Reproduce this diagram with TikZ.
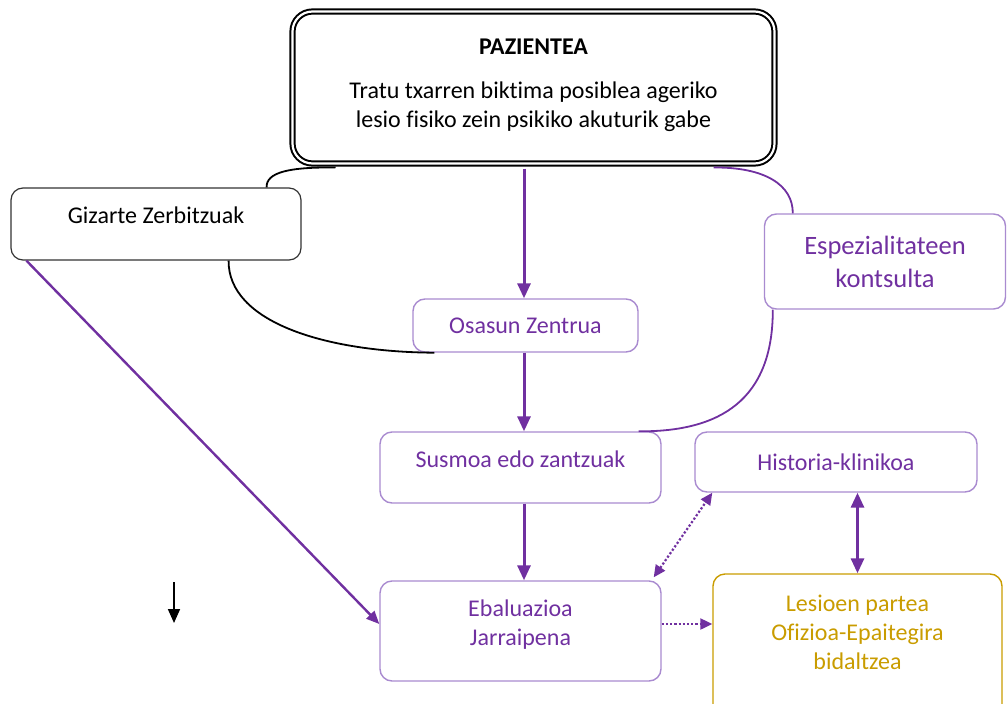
\documentclass[tikz,border=0pt]{standalone}
\usepackage{fontspec}
\setmainfont{Carlito}[Ligatures=CommonOff]
\usepackage{tikz}
\usetikzlibrary{arrows.meta,calc}
\definecolor{violet}{HTML}{7030A0}
\definecolor{lilac}{HTML}{A98BD0}
\definecolor{golden}{HTML}{C99C00}
\begin{document}
\begin{tikzpicture}[x=1pt,y=-1pt]
\tikzstyle{every node}=[font=\fontsize{24}{29}\selectfont, align=center, inner sep=0pt]
\tikzstyle{blackbox}=[draw=black!80, line width=1.2pt, rounded corners=12pt]
\tikzstyle{lilacbox}=[draw=lilac, line width=1.4pt, rounded corners=12pt, text=violet]
\tikzstyle{mainarrow}=[violet, line width=3pt, -{Triangle[width=13pt,length=15pt]}]
\tikzstyle{dotarrow}=[violet, line width=2.2pt, dotted, {Triangle[width=11pt,length=12pt]}-{Triangle[width=11pt,length=12pt]}]
\clip (0,0) rectangle (1007,704);
\useasboundingbox (0,0) rectangle (1007,704);
\draw (533.5,87.5) node (pat) [draw, double, line width=2pt, double distance=2.2pt, rounded corners=20pt, minimum width=482pt, minimum height=152pt, text depth=8pt] {\textbf{PAZIENTEA}\\[15pt]Tratu txarren biktima posiblea ageriko\\lesio fisiko zein psikiko akuturik gabe};
\draw (156,224) node (giz) [blackbox, minimum width=290pt, minimum height=72pt, text depth=18pt] {Gizarte Zerbitzuak};
\draw (885,261.5) node (esp) [lilacbox, minimum width=241pt, minimum height=95pt, font=\fontsize{26.5}{33}\selectfont] {Espezialitateen\\kontsulta};
\draw (525.5,325.5) node (osa) [lilacbox, minimum width=225pt, minimum height=53pt] {Osasun Zentrua};
\draw (520.5,467.5) node (sus) [lilacbox, minimum width=281pt, minimum height=71pt, text depth=17pt] {Susmoa edo zantzuak};
\draw (836,462) node (his) [lilacbox, minimum width=282pt, minimum height=60pt] {Historia-klinikoa};
\draw (520.5,631) node (eba) [lilacbox, minimum width=281pt, minimum height=100pt, text depth=16pt] {Ebaluazioa\\Jarraipena};
\draw (857.5,645) node (les) [lilacbox, draw=golden, text=golden, minimum width=289pt, minimum height=142pt, text depth=26pt] {Lesioen partea\\Ofizioa-Epaitegira\\bidaltzea};
\coordinate (p1) at (174,582);
\coordinate (p2) at (174,623);
\draw [mainarrow] (osa.north |- pat.south) ++(-1.5,4) -- ($(osa.north)+(-1.5,0)$);
\draw [mainarrow] ($(osa.south)+(-1.5,0)$) -- ($(osa.south |- sus.north)+(-1.5,0)$);
\draw [mainarrow] ($(sus.south)+(3.5,0)$) -- ($(eba.north)+(3.5,0)$);
\draw [violet, line width=2.4pt, -{Triangle[width=11pt,length=13pt]}] ($(giz.south west)+(16,0)$) -- ($(eba.west)+(0,-7)$);
\draw [dotarrow] ($(eba.north east)+(-8,-3)$) -- ($(his.south west)+(18,0)$);
\draw [dotarrow, -{Triangle[width=11pt,length=12pt]}] ($(eba.east)+(0,-7)$) -- ($(les.west)+(0,-21)$);
\draw [violet, line width=3pt, {Triangle[width=13pt,length=15pt]}-{Triangle[width=13pt,length=15pt]}] (his.south -| les.north) -- (les.north);
\draw [black, line width=1.8pt] ($(pat.south west)+(44,3)$) .. controls (290,167) and (266,172) .. ($(giz.north east)+(-35,0)$);
\draw [black, line width=1.8pt] ($(giz.south east)+(-73,0)$) .. controls (228,322) and (325,352) .. ($(osa.south west)+(22,0)$);
\draw [violet, line width=1.8pt] ($(pat.south east)+(-62,3)$) .. controls (765,167) and (793,185) .. ($(esp.north west)+(29,0)$);
\draw [violet, line width=1.8pt] ($(esp.south west)+(9,0)$) .. controls (773,400) and (720,432) .. ($(sus.north east)+(-23,0)$);
\draw [black, line width=1.7pt, -{Triangle[width=12pt,length=14pt]}] (p1) -- (p2);
\end{tikzpicture}
\end{document}
